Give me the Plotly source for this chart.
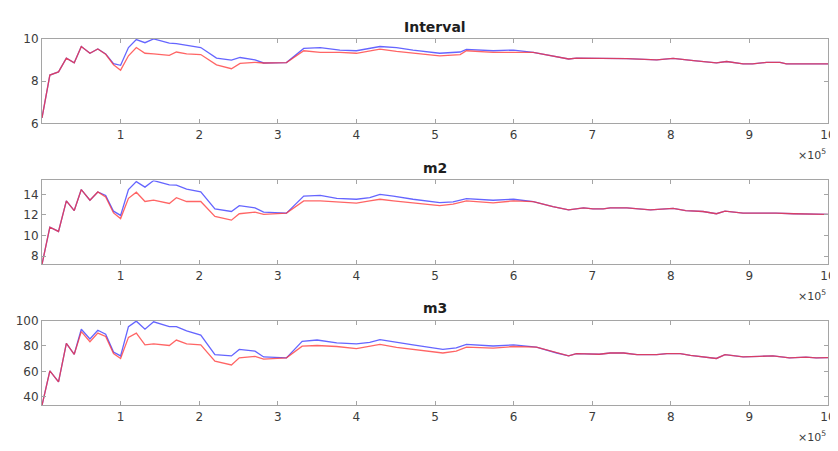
import plotly.graph_objects as go

# ---------------- data (x in units of 1e5) ----------------
x_interval = [0, 0.1, 0.21, 0.31, 0.41, 0.5, 0.61, 0.71, 0.81, 0.91,
              1.0, 1.1, 1.2, 1.31, 1.42, 1.62, 1.71, 1.84, 2.02, 2.22,
              2.41, 2.52, 2.71, 2.82, 3.11, 3.33, 3.54, 3.79, 4.0, 4.30,
              4.51, 4.72, 5.06, 5.32, 5.40, 5.74, 6.0, 6.25, 6.42, 6.59,
              6.70, 6.80, 7.44, 7.82, 8.03, 8.29, 8.58, 8.71, 8.92, 9.04,
              9.22, 9.39, 9.47, 10.0]
interval_blue = [6.26, 8.29, 8.44, 9.09, 8.87, 9.64, 9.32, 9.52, 9.29, 8.83,
                 8.75, 9.59, 9.97, 9.82, 10.0, 9.8, 9.78, 9.7, 9.59, 9.09,
                 9.0, 9.12, 9.01, 8.86, 8.88, 9.55, 9.59, 9.47, 9.44, 9.64,
                 9.59, 9.47, 9.32, 9.38, 9.5, 9.44, 9.47, 9.36, 9.24, 9.12,
                 9.05, 9.09, 9.07, 9.01, 9.08, 8.97, 8.87, 8.93, 8.82, 8.82,
                 8.89, 8.89, 8.82, 8.82]
interval_red = [6.26, 8.29, 8.44, 9.09, 8.87, 9.64, 9.32, 9.52, 9.27, 8.78,
                8.52, 9.2, 9.59, 9.32, 9.29, 9.22, 9.38, 9.29, 9.26, 8.77,
                8.59, 8.84, 8.89, 8.86, 8.88, 9.44, 9.36, 9.36, 9.32, 9.52,
                9.41, 9.32, 9.2, 9.26, 9.44, 9.36, 9.36, 9.36, 9.24, 9.12,
                9.05, 9.09, 9.07, 9.01, 9.08, 8.97, 8.87, 8.93, 8.82, 8.82,
                8.89, 8.89, 8.82, 8.82]

x_m2 = [0, 0.1, 0.21, 0.31, 0.41, 0.5, 0.61, 0.71, 0.81, 0.91,
        1.0, 1.1, 1.2, 1.31, 1.42, 1.62, 1.71, 1.84, 2.02, 2.2,
        2.41, 2.51, 2.71, 2.82, 3.11, 3.33, 3.54, 3.75, 4.0, 4.17,
        4.30, 4.47, 4.72, 5.06, 5.23, 5.40, 5.74, 6.0, 6.25, 6.5,
        6.70, 6.89, 7.01, 7.14, 7.23, 7.44, 7.74, 8.03, 8.19, 8.41,
        8.58, 8.69, 8.92, 9.13, 9.34, 9.56, 10.0]
m2_blue = [7.21, 10.81, 10.4, 13.37, 12.43, 14.47, 13.44, 14.24, 13.9, 12.37,
           11.96, 14.47, 15.24, 14.71, 15.34, 14.93, 14.9, 14.52, 14.24, 12.59,
           12.34, 12.9, 12.69, 12.28, 12.18, 13.84, 13.9, 13.62, 13.53, 13.68,
           14.0, 13.84, 13.53, 13.21, 13.27, 13.59, 13.43, 13.53, 13.3, 12.81,
           12.5, 12.69, 12.6, 12.6, 12.69, 12.69, 12.5, 12.65, 12.43, 12.34,
           12.12, 12.37, 12.18, 12.21, 12.18, 12.12, 12.06]
m2_red = [7.21, 10.81, 10.4, 13.37, 12.43, 14.47, 13.44, 14.24, 13.75, 12.2,
          11.65, 13.62, 14.21, 13.31, 13.44, 13.12, 13.68, 13.31, 13.31, 11.87,
          11.5, 12.12, 12.28, 12.06, 12.18, 13.37, 13.37, 13.3, 13.15, 13.37,
          13.53, 13.37, 13.15, 12.9, 13.06, 13.37, 13.18, 13.37, 13.3, 12.81,
          12.5, 12.69, 12.6, 12.6, 12.69, 12.69, 12.5, 12.65, 12.43, 12.34,
          12.12, 12.37, 12.18, 12.21, 12.18, 12.12, 12.06]

x_m3 = [0, 0.1, 0.21, 0.31, 0.41, 0.5, 0.61, 0.71, 0.81, 0.91,
        1.0, 1.1, 1.2, 1.31, 1.42, 1.62, 1.71, 1.84, 2.02, 2.2,
        2.41, 2.51, 2.71, 2.82, 3.11, 3.31, 3.50, 3.75, 4.0, 4.17,
        4.30, 4.51, 4.72, 5.10, 5.27, 5.40, 5.74, 6.0, 6.29, 6.55,
        6.70, 6.80, 7.09, 7.23, 7.40, 7.57, 7.82, 7.95, 8.12, 8.25,
        8.46, 8.58, 8.69, 8.92, 9.13, 9.30, 9.51, 9.72, 9.85, 10.0]
m3_blue = [33.4, 60.5, 51.8, 82.1, 73.5, 93.2, 85.5, 92.4, 89.3, 75.3,
           72.2, 95.2, 99.5, 93.2, 99.0, 95.2, 95.2, 91.9, 88.6, 73.2,
           72.2, 77.3, 76.0, 71.4, 70.7, 83.7, 84.7, 82.4, 81.7, 82.8,
           85.0, 82.8, 80.9, 77.3, 78.6, 81.2, 80.0, 80.9, 79.1, 74.5,
           72.2, 74.0, 73.5, 74.5, 74.5, 73.2, 73.2, 74.0, 74.0, 72.7,
           71.4, 70.2, 73.2, 71.4, 71.9, 72.2, 70.7, 71.2, 70.7, 70.9]
m3_red = [33.4, 60.5, 51.8, 82.1, 73.5, 91.3, 83.4, 90.1, 87.5, 74.0,
          70.2, 86.8, 90.1, 80.9, 81.7, 80.4, 84.7, 81.7, 80.9, 68.1,
          65.1, 70.7, 71.9, 69.7, 70.7, 79.9, 80.4, 79.6, 77.9, 79.6,
          81.2, 78.9, 77.3, 74.5, 76.0, 79.1, 78.4, 79.6, 79.1, 74.5,
          72.2, 74.0, 73.5, 74.5, 74.5, 73.2, 73.2, 74.0, 74.0, 72.7,
          71.4, 70.2, 73.2, 71.4, 71.9, 72.2, 70.7, 71.2, 70.7, 70.9]

titles = ["Interval", "m2", "m3"]
x_tick_vals = [1, 2, 3, 4, 5, 6, 7, 8, 9, 10]
x_tick_text = ["1", "2", "3", "4", "5", "6", "7", "8", "9", "10"]
y_ticks = [[6, 8, 10], [8, 10, 12, 14], [40, 60, 80, 100]]
y_ranges = [[6, 10], [7.2, 15.35], [33.4, 100]]
x_scale = 1e5

panels = [(x_interval, interval_blue, interval_red),
          (x_m2, m2_blue, m2_red),
          (x_m3, m3_blue, m3_red)]

# ---------------- figure ----------------
# page body has an 8px default margin, so the figure is sized/offset for it
OFF = 8
W, H = 830, 451 - 2 * OFF
fig = go.Figure()

# panel (top, bottom) in screen pixels of the reference
panel_px = [(32.7, 120.0), (179.0, 265.7), (323.7, 411.3)]
domains = [[(H - (b - OFF)) / H, (H - (t - OFF)) / H] for t, b in panel_px]
plot_left, plot_right = 42 - OFF, 828 - OFF

axis_col = "rgb(165,165,165)"
font_col = "rgb(60,60,60)"

for i, (xs, yb, yr) in enumerate(panels):
    n = "" if i == 0 else str(i + 1)
    xv = [v * x_scale for v in xs]
    fig.add_trace(go.Scatter(x=xv, y=yb, mode="lines",
                             line=dict(color="rgba(50,50,255,0.75)", width=1.3),
                             xaxis="x" + n, yaxis="y" + n, showlegend=False))
    fig.add_trace(go.Scatter(x=xv, y=yr, mode="lines",
                             line=dict(color="rgba(255,50,50,0.75)", width=1.3),
                             xaxis="x" + n, yaxis="y" + n, showlegend=False))
    common = dict(showline=True, linecolor=axis_col, linewidth=1, mirror="ticks",
                  ticks="inside", ticklen=4, tickcolor=axis_col, showgrid=False,
                  zeroline=False,
                  tickfont=dict(family="DejaVu Sans", size=12, color=font_col))
    fig.update_layout(**{
        "xaxis" + n: dict(domain=[0, 1], range=[0, 10 * x_scale], anchor="y" + n,
                          tickvals=[v * x_scale for v in x_tick_vals],
                          ticktext=x_tick_text, ticklabeloverflow="allow", **common),
        "yaxis" + n: dict(domain=domains[i], range=y_ranges[i], anchor="x" + n,
                          tickvals=y_ticks[i], **common),
    })
    top = domains[i][1]
    bot = domains[i][0]
    fig.add_annotation(text="<b>%s</b>" % titles[i], xref="paper", yref="paper",
                       x=0.5, y=top + 12.5 / H, xanchor="center", yanchor="middle",
                       showarrow=False,
                       font=dict(family="DejaVu Sans", size=14, color="rgb(30,30,30)"))
    fig.add_annotation(text="×10<sup>5</sup>", xref="paper", yref="paper",
                       x=1.0, y=bot - 32 / H, xanchor="right", yanchor="middle",
                       showarrow=False,
                       font=dict(family="DejaVu Sans", size=11, color=font_col))

fig.update_layout(width=W, height=H,
                  margin=dict(l=plot_left, r=W - plot_right, t=0, b=0),
                  paper_bgcolor="white", plot_bgcolor="white")

fig.write_html("out.html")
